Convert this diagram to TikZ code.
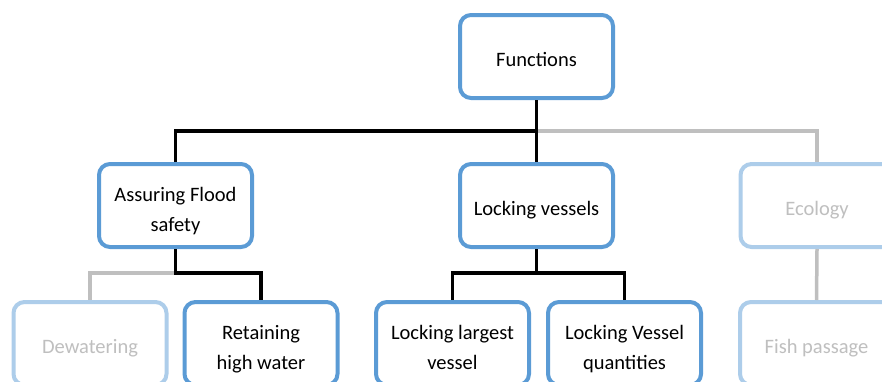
\documentclass[tikz,border=0pt]{standalone}
\usepackage{fontspec}
\setmainfont{Carlito}
\definecolor{boxblue}{RGB}{91,155,213}
\definecolor{paleblue}{RGB}{173,205,234}
\definecolor{linegray}{RGB}{191,191,191}
\definecolor{textgray}{RGB}{191,191,191}
\begin{document}
\begin{tikzpicture}[x=1pt,y=-1pt,
  fbox/.style={draw=boxblue, line width=4pt, rounded corners=11pt, fill=white,
    minimum width=153pt, minimum height=83pt, align=center, inner sep=0pt,
    font=\fontsize{20.5}{30.5}\selectfont, text=black},
  oneline/.style={text height=19pt, text depth=0pt},
  twoline/.style={text height=57pt, text depth=5pt},
  fadebox/.style={fbox, draw=paleblue, text=textgray},
  conn/.style={line width=3.5pt, draw=black},
  fadeconn/.style={line width=3.5pt, draw=linegray}]
\useasboundingbox (0,0) rectangle (882,381);
\clip (0,0) rectangle (882,381);
% level 1
\node[fbox, oneline] (fun) at (536.5,56.5) {Functions};
% level 2
\node[fbox, twoline] (afs) at (175.5,205.5) {Assuring Flood\\safety};
\node[fbox, oneline] (lv) at (536.5,205.5) {Locking vessels};
\node[fadebox, oneline] (eco) at (817,205.5) {Ecology};
% level 3
\node[fadebox, oneline] (dew) at (90,343.5) {Dewatering};
\node[fbox, twoline] (rhw) at (261,343.5) {Retaining\\high water};
\node[fbox, twoline] (llv) at (452.5,343.5) {Locking largest\\vessel};
\node[fbox, twoline] (lvq) at (624.5,343.5) {Locking Vessel\\quantities};
\node[fadebox, oneline] (fish) at (816.5,343.5) {Fish passage};
% junction points
\coordinate (j1) at (536.5,131);
\coordinate (j2) at (175.5,273);
\coordinate (j3) at (536.5,273);
% faded connectors underneath
\draw[fadeconn] (j1) -| (eco.north);
\draw[fadeconn] (eco.south) -- (fish.north);
\draw[fadeconn] (j2) -| (dew.north);
% active connectors
\draw[conn] (fun.south) -- (j1) -| (afs.north);
\draw[conn] (j1) -- (lv.north);
\draw[conn] (afs.south) -- (j2) -| (rhw.north);
\draw[conn] (lv.south) -- (j3) -| (llv.north);
\draw[conn] (j3) -| (lvq.north);
\end{tikzpicture}
\end{document}
